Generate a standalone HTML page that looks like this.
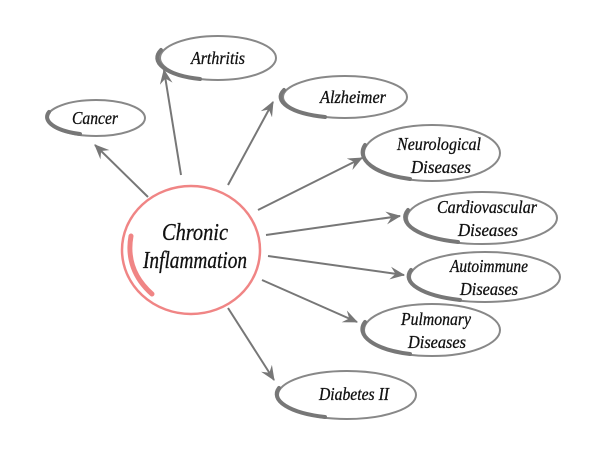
<!DOCTYPE html>
<html><head><meta charset="utf-8"><style>
html,body{margin:0;padding:0;background:#fff;}
svg{display:block}
text{font-family:"Liberation Serif",serif;font-style:italic;fill:#111;text-anchor:middle;stroke:#111;stroke-width:0.3;}
</style></head><body>
<svg width="600" height="450" viewBox="0 0 600 450" xmlns="http://www.w3.org/2000/svg">
<defs>
<marker id="a" viewBox="0 0 14 12" refX="13" refY="6" markerWidth="15" markerHeight="13" markerUnits="userSpaceOnUse" orient="auto">
<path d="M0,0 L14,6 L0,12 L5,6 Z" fill="#777"/>
</marker>
</defs>
<g stroke="#777" stroke-width="2" fill="none" marker-end="url(#a)">
<line x1="148" y1="197" x2="95" y2="145"/>
<line x1="181" y1="175" x2="164" y2="70"/>
<line x1="228" y1="185" x2="273" y2="102"/>
<line x1="258" y1="210" x2="362" y2="158"/>
<line x1="266" y1="235" x2="400" y2="216"/>
<line x1="268" y1="256" x2="404" y2="275"/>
<line x1="262" y1="280" x2="357" y2="322"/>
<line x1="228" y1="308" x2="274" y2="380"/>
</g>
<g fill="none" stroke="#888">
<ellipse cx="96" cy="118" rx="49" ry="18" stroke-width="2"/>
<ellipse cx="218" cy="58" rx="58" ry="22" stroke-width="2"/>
<ellipse cx="345" cy="97" rx="62" ry="21" stroke-width="2"/>
<ellipse cx="432" cy="153" rx="68" ry="28" stroke-width="2"/>
<ellipse cx="482" cy="218" rx="75" ry="26" stroke-width="2"/>
<ellipse cx="485" cy="277" rx="75" ry="25" stroke-width="2"/>
<ellipse cx="432" cy="330" rx="68" ry="26" stroke-width="2"/>
<ellipse cx="347" cy="395" rx="69" ry="24" stroke-width="2"/>
</g>
<g fill="none" stroke="#777" stroke-width="4" stroke-linecap="round">
<path d="M49,112 A49,18 0 0 0 80,134"/>
<path d="M161,50 A58,22 0 0 0 200,79"/>
<path d="M284,90 A62,21 0 0 0 325,117"/>
<path d="M365,145 A68,28 0 0 0 410,179"/>
<path d="M408,210 A75,26 0 0 0 458,242"/>
<path d="M411,270 A75,25 0 0 0 460,300"/>
<path d="M365,322 A68,26 0 0 0 410,354"/>
<path d="M279,388 A69,24 0 0 0 325,417"/>
</g>
<ellipse cx="191" cy="250" rx="69" ry="64" fill="none" stroke="#f08585" stroke-width="2.5"/>
<path d="M131,236 C127,258 134,278 152,294" fill="none" stroke="#f08585" stroke-width="5" stroke-linecap="round"/>
<text x="195" y="240" font-size="24" textLength="66" lengthAdjust="spacingAndGlyphs">Chronic</text>
<text x="195" y="268" font-size="24" textLength="104" lengthAdjust="spacingAndGlyphs">Inflammation</text>
<g font-size="18">
<text x="95" y="124" textLength="46" lengthAdjust="spacingAndGlyphs">Cancer</text>
<text x="218" y="64" textLength="54" lengthAdjust="spacingAndGlyphs">Arthritis</text>
<text x="353" y="103" textLength="66" lengthAdjust="spacingAndGlyphs">Alzheimer</text>
<text x="439" y="150" textLength="84" lengthAdjust="spacingAndGlyphs">Neurological</text>
<text x="441" y="173" textLength="60" lengthAdjust="spacingAndGlyphs">Diseases</text>
<text x="487" y="213" textLength="100" lengthAdjust="spacingAndGlyphs">Cardiovascular</text>
<text x="488" y="236" textLength="60" lengthAdjust="spacingAndGlyphs">Diseases</text>
<text x="489" y="272" textLength="78" lengthAdjust="spacingAndGlyphs">Autoimmune</text>
<text x="489" y="295" textLength="58" lengthAdjust="spacingAndGlyphs">Diseases</text>
<text x="436" y="325" textLength="70" lengthAdjust="spacingAndGlyphs">Pulmonary</text>
<text x="437" y="348" textLength="58" lengthAdjust="spacingAndGlyphs">Diseases</text>
<text x="354" y="400" textLength="70" lengthAdjust="spacingAndGlyphs">Diabetes II</text>
</g>
</svg>
</body></html>
